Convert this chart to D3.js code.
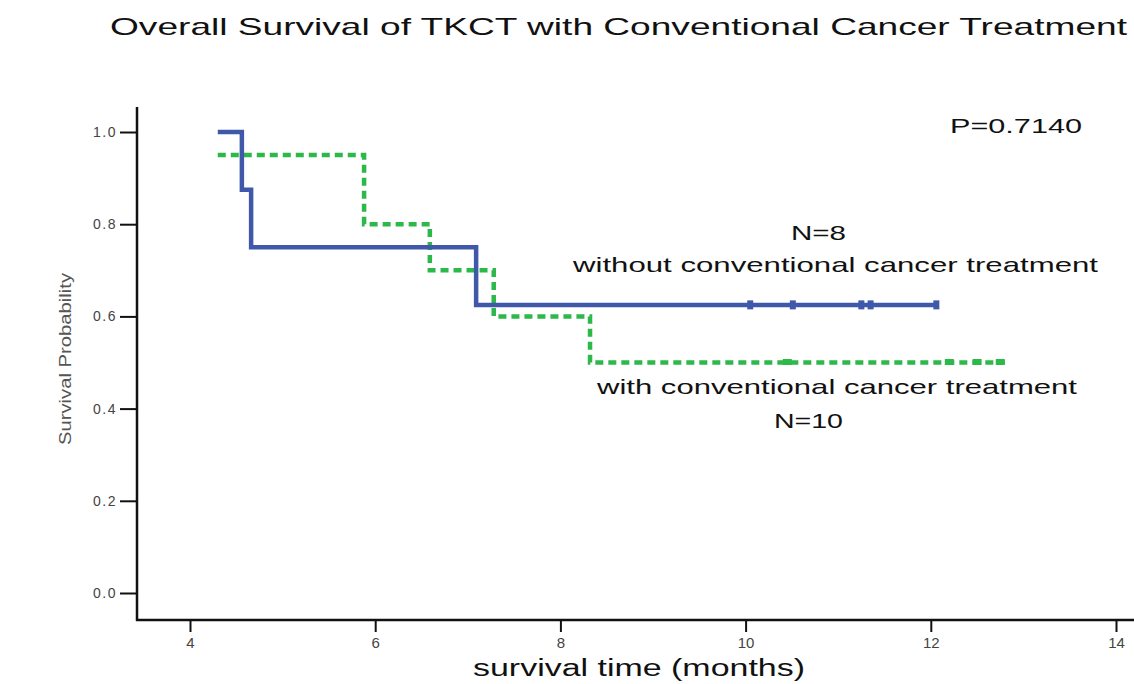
<!DOCTYPE html>
<html>
<head>
<meta charset="utf-8">
<script src="https://cdn.jsdelivr.net/npm/d3@7"></script>
<style>
  html, body { margin: 0; padding: 0; background: #fff; }
  svg { display: block; }
</style>
</head>
<body>
<svg id="chart" width="1134" height="684"></svg>
<script>
// ---- data ----
const chartTitle = "Overall Survival of TKCT with Conventional Cancer Treatment";
const xTicks = [4, 6, 8, 10, 12, 14];
const yTicks = [0.0, 0.2, 0.4, 0.6, 0.8, 1.0];

const withoutTimes = [4.3, 4.56, 4.66, 7.09, 12.08];
const withoutSurv  = [1.0, 0.875, 0.75, 0.625, 0.625];
const withoutCensor = [10.05, 10.51, 11.25, 11.35, 12.06];

const withTimes = [4.3, 5.88, 6.59, 7.28, 8.32, 12.8];
const withSurv  = [0.95, 0.80, 0.70, 0.60, 0.50, 0.50];
const withCensor = [10.45, 12.2, 12.5, 12.75];

// ---- scales ----
const svg = d3.select("#chart");
const x = d3.scaleLinear().domain([4, 14]).range([190, 1116]);
const y = d3.scaleLinear().domain([0, 1]).range([593, 132]);
const axisX0 = 137, axisY0 = 620, axisTop = 107, axisRight = 1134;

const font = "'Liberation Sans', Arial, sans-serif";

// title
svg.append("text")
  .attr("x", 110).attr("y", 35)
  .attr("textLength", 1017).attr("lengthAdjust", "spacingAndGlyphs")
  .style("font-family", font).style("font-size", "24px").attr("fill", "#111")
  .text(chartTitle);

// axes lines
svg.append("line").attr("x1", axisX0).attr("x2", axisX0).attr("y1", axisTop).attr("y2", axisY0 + 1)
  .attr("stroke", "#111").attr("stroke-width", 2.5);
svg.append("line").attr("x1", axisX0 - 1).attr("x2", axisRight).attr("y1", axisY0).attr("y2", axisY0)
  .attr("stroke", "#111").attr("stroke-width", 2.5);

// y axis ticks
const yAxis = svg.append("g").attr("transform", `translate(${axisX0},0)`)
  .call(d3.axisLeft(y).tickValues(yTicks).tickFormat(d3.format(".1f")).tickSize(17).tickPadding(3));
yAxis.select(".domain").remove();
yAxis.selectAll(".tick line").attr("stroke", "#111").attr("stroke-width", 2);
yAxis.selectAll(".tick text").style("font-family", font).style("font-size", "14px")
  .attr("fill", "#444").style("letter-spacing", "1.5px");

// x axis ticks
const xAxis = svg.append("g").attr("transform", `translate(0,${axisY0})`)
  .call(d3.axisBottom(x).tickValues(xTicks).tickFormat(d3.format("d")).tickSize(12).tickPadding(5));
xAxis.select(".domain").remove();
xAxis.selectAll(".tick line").attr("stroke", "#111").attr("stroke-width", 2);
xAxis.selectAll(".tick text").style("font-family", font).style("font-size", "15px").attr("fill", "#444");

// axis labels
svg.append("text")
  .attr("x", 473).attr("y", 676)
  .attr("textLength", 332).attr("lengthAdjust", "spacingAndGlyphs")
  .style("font-family", font).style("font-size", "23px").attr("fill", "#111")
  .text("survival time (months)");
svg.append("text")
  .attr("transform", "translate(71,445) rotate(-90)")
  .attr("textLength", 172).attr("lengthAdjust", "spacingAndGlyphs")
  .style("font-family", font).style("font-size", "17px").attr("fill", "#555")
  .text("Survival Probability");

// curves
const line = d3.line().x(d => x(d[0])).y(d => y(d[1])).curve(d3.curveStepAfter);
const blue = "#3f58aa", green = "#2db84a";

svg.append("path")
  .datum(withTimes.map((t, i) => [t, withSurv[i]]))
  .attr("d", line).attr("fill", "none").attr("stroke", green)
  .attr("stroke-width", 4.5).attr("stroke-dasharray", "8,5");

svg.append("path")
  .datum(withoutTimes.map((t, i) => [t, withoutSurv[i]]))
  .attr("d", line).attr("fill", "none").attr("stroke", blue)
  .attr("stroke-width", 4.5);

// censor marks
svg.selectAll(".cb").data(withoutCensor).enter().append("rect")
  .attr("x", d => x(d) - 3).attr("y", y(0.625) - 4.5).attr("width", 6).attr("height", 9)
  .attr("fill", blue);
svg.selectAll(".cg").data(withCensor).enter().append("rect")
  .attr("x", d => x(d) - 4.5).attr("y", y(0.5) - 3.5).attr("width", 9).attr("height", 6)
  .attr("fill", green);

// annotations
function ann(txt, xx, yy, len, size) {
  svg.append("text").attr("x", xx).attr("y", yy)
    .attr("textLength", len).attr("lengthAdjust", "spacingAndGlyphs")
    .style("font-family", font).style("font-size", size + "px").attr("fill", "#111")
    .text(txt);
}
ann("P=0.7140", 950, 133, 132, 21);
ann("N=8", 791, 240, 55, 21);
ann("without conventional cancer treatment", 573, 272, 525, 21);
ann("with conventional cancer treatment", 597, 394, 480, 21);
ann("N=10", 774, 428, 69, 21);
</script>
</body>
</html>
